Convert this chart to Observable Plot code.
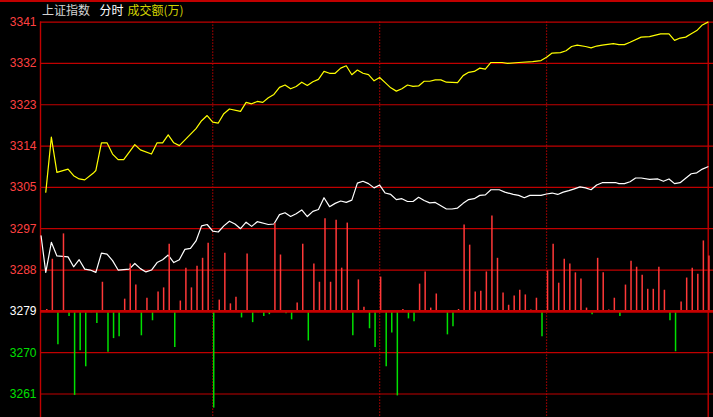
<!DOCTYPE html>
<html><head><meta charset="utf-8">
<script src="https://cdn.jsdelivr.net/npm/d3@7"></script>
<script src="https://cdn.jsdelivr.net/npm/@observablehq/plot@0.6"></script>
<style>
html,body{margin:0;padding:0;background:#000;}
#chart svg{display:block;background:#000;box-shadow: inset 0 2px 0 #c00000;}
</style></head><body><div id="chart"></div>
<script>
// ---- data ----
const titleParts = ["上证指数", "分时", "成交额(万)"];
const tickValues = [3341.0, 3332.2, 3323.4, 3314.6, 3305.8, 3297.0, 3288.2, 3279.4, 3270.6, 3261.8];
const tickLabels = ["3341", "3332", "3323", "3314", "3305", "3297", "3288", "3279", "3270", "3261"];
const baseValue = 3279.4;
const sessionMarks = [60, 120, 180];
const sessionEdges = [-1.9, 238.1];
const xDomain = [-1.9, 240];
const yDomain = [3256.8, 3345.6];

const yellowMin = [0,2,4,8,10,12,14,17,18,20,22,24,26,28,32,34,38,40,42,44,46,48,54,56,58,60,62,64,66,70,72,74,76,78,80,82,84,86,88,90,92,94,96,98,100,102,104,106,108,110,112,114,116,118,120,122,124,126,128,130,132,134,136,138,140,142,144,148,150,152,154,156,158,160,164,166,170,175,178,180,182,185,187,189,191,194,196,198,200,204,206,208,210,214,217,221,224,226,228,230,232,234,236,238];
const yellowVal = [3304.8,3316.5,3309.0,3309.7,3308.3,3307.6,3307.4,3308.8,3309.4,3315.3,3315.3,3312.9,3311.7,3311.7,3314.9,3313.8,3312.9,3315.3,3315.3,3317.0,3315.3,3314.7,3318.3,3320.0,3321.1,3319.7,3319.5,3321.5,3322.5,3322.0,3323.9,3323.6,3324.1,3323.9,3324.9,3325.6,3327.1,3327.6,3326.8,3327.3,3328.2,3327.5,3328.3,3328.8,3330.5,3330.1,3330.1,3331.2,3331.7,3329.8,3330.8,3330.1,3329.8,3328.5,3329.2,3328.1,3327.0,3326.3,3326.8,3327.6,3327.3,3327.4,3328.4,3328.4,3328.7,3328.7,3328.2,3328.1,3329.6,3330.3,3330.5,3331.2,3331.0,3332.4,3332.4,3332.2,3332.4,3332.6,3332.8,3333.5,3334.4,3334.5,3334.9,3335.8,3336.1,3335.8,3335.5,3335.9,3336.1,3336.4,3336.2,3336.2,3336.7,3337.8,3337.9,3338.5,3338.5,3337.1,3337.6,3337.8,3338.5,3339.2,3340.4,3341.0];

const whiteMin = [-1.7,0,2,4,8,10,12,14,16,18,20,22,24,26,30,32,34,36,38,40,42,44,46,48,50,52,54,56,58,60,62,64,66,68,70,72,74,76,80,82,84,86,88,90,92,94,96,98,100,102,104,106,108,110,112,114,116,118,120,122,124,126,128,130,132,134,136,138,140,142,144,146,148,150,152,154,156,158,160,163,165,168,170,172,174,178,180,182,184,186,188,190,192,194,196,198,200,205,206,208,210,212,214,217,220,222,224,226,228,232,234,236,238];
const whiteVal = [3295.5,3287.7,3294.1,3291.2,3291.0,3288.9,3290.4,3288.4,3288.2,3287.7,3291.8,3291.6,3290.2,3288.2,3288.4,3289.6,3288.5,3287.8,3288.2,3289.8,3290.4,3291.4,3289.8,3290.4,3292.6,3292.8,3294.4,3297.6,3297.9,3296.5,3296.3,3297.6,3298.6,3298.0,3297.0,3298.4,3297.5,3298.5,3297.9,3298.0,3300.0,3300.4,3299.6,3300.2,3301.0,3299.6,3300.7,3301.1,3303.6,3301.7,3302.4,3302.9,3302.6,3303.1,3306.7,3307.1,3306.6,3305.7,3306.3,3304.6,3304.3,3303.2,3303.4,3302.8,3302.8,3303.7,3303.0,3302.5,3302.6,3301.9,3301.2,3301.2,3301.4,3302.4,3303.2,3303.4,3304.1,3304.2,3305.3,3305.3,3304.8,3304.3,3304.1,3303.6,3304.1,3304.1,3304.4,3304.6,3304.3,3304.8,3305.1,3305.5,3305.9,3305.7,3305.3,3306.3,3306.8,3306.8,3306.6,3306.6,3307.0,3307.8,3307.8,3307.5,3307.6,3307.1,3307.6,3306.6,3306.8,3308.7,3308.9,3309.7,3310.2];

// bar change values, one per 2 minutes from minute 0 to 238
const barStep = 2;
const barDelta = [0.4,11.1,-7.1,16.5,-1.1,-17.9,-8.4,-11.8,-0.3,-2.6,6.2,-8.7,-5.8,-5.4,2.6,10.1,5.6,-5.2,2.8,-2.0,4.1,5.0,14.3,-7.7,2.2,9.2,5.0,9.6,11.3,14.5,-20.6,2.4,12.4,1.6,3.0,-1.4,12.2,-2.4,-0.3,-1.1,-0.7,18.7,12.0,-0.5,-1.8,1.8,14.3,-6.3,10.1,6.2,19.7,6.2,19.4,9.2,18.8,-5.2,6.7,0.9,-3.7,-7.7,7.3,-11.8,-4.6,-18.0,0.4,-1.6,-2.2,5.8,8.4,0.7,3.7,0,-5.0,-3.3,0.4,18.4,14.1,4.1,4.3,8.4,20.3,11.3,3.9,1.3,3.3,4.5,3.5,0.3,2.8,-5.4,8.6,14.3,6.0,11.1,10.1,8.2,6.9,0.7,-0.7,11.3,8.2,0.3,2.8,-1.1,5.6,10.7,9.4,7.7,4.7,4.7,9.4,4.5,-2.0,-8.6,2.0,7.1,9.2,7.9,15.0,11.8];

// ---- build ----
const yellow = yellowMin.map((m, i) => ({m, v: yellowVal[i]}));
const white = whiteMin.map((m, i) => ({m, v: whiteVal[i]}));
const bars = barDelta.map((d, i) => ({m: i * barStep, d})).filter(b => b.d !== 0);

const GRID = "#c00000", RED = "#ff3838", GREEN = "#00e000";

const chart = Plot.plot({
  width: 713, height: 417,
  marginLeft: 40, marginRight: 0, marginTop: 0, marginBottom: 0,
  style: {background: "#000", fontFamily: "'Liberation Sans', Arial, sans-serif", fontSize: "12px"},
  x: {domain: xDomain, axis: null},
  y: {domain: yDomain, axis: null},
  color: {type: "identity"},
  marks: [
    Plot.ruleY(tickValues.filter(v => v !== baseValue), {stroke: GRID, strokeWidth: 1.2}),
    Plot.ruleX(sessionEdges, {y1: tickValues[0], y2: yDomain[0], stroke: GRID, strokeWidth: 1.4}),
    Plot.ruleX(sessionMarks, {y1: tickValues[0], y2: yDomain[0], stroke: GRID, strokeWidth: 1.2, strokeDasharray: "1.2,1.8"}),
    Plot.line(white, {x: "m", y: "v", stroke: "#ffffff", strokeWidth: 1.2}),
    Plot.line(yellow, {x: "m", y: "v", stroke: "#ffff00", strokeWidth: 1.2}),
    Plot.ruleX(bars, {x: "m", y1: baseValue, y2: b => baseValue + b.d, stroke: b => b.d > 0 ? RED : GREEN, strokeWidth: 1.5, dx: 1}),
    Plot.ruleY([baseValue], {stroke: "#c80000", strokeWidth: 2.6}),
    Plot.text(tickValues, {y: d => d, text: (d, i) => tickLabels[i], frameAnchor: "left", textAnchor: "end", dx: -4,
      fill: d => d > baseValue ? "#ff4040" : d < baseValue ? "#00e000" : "#ffffff", fontSize: 12}),
    Plot.text([titleParts[0]], {text: d => d, frameAnchor: "top-left", textAnchor: "start", lineAnchor: "middle", dx: 1.5, dy: 11,
      fill: "#d4d4d4", fontFamily: "'Noto Sans CJK SC', sans-serif", fontSize: 12}),
    Plot.text([titleParts[1]], {text: d => d, frameAnchor: "top-left", textAnchor: "start", lineAnchor: "middle", dx: 59, dy: 11,
      fill: "#ffffff", fontFamily: "'Noto Sans CJK SC', sans-serif", fontSize: 12}),
    Plot.text([titleParts[2]], {text: d => d, frameAnchor: "top-left", textAnchor: "start", lineAnchor: "middle", dx: 87, dy: 11,
      fill: "#d2d200", fontFamily: "'Noto Sans CJK SC', sans-serif", fontSize: 12})
  ]
});
document.getElementById("chart").appendChild(chart);
</script></body></html>
